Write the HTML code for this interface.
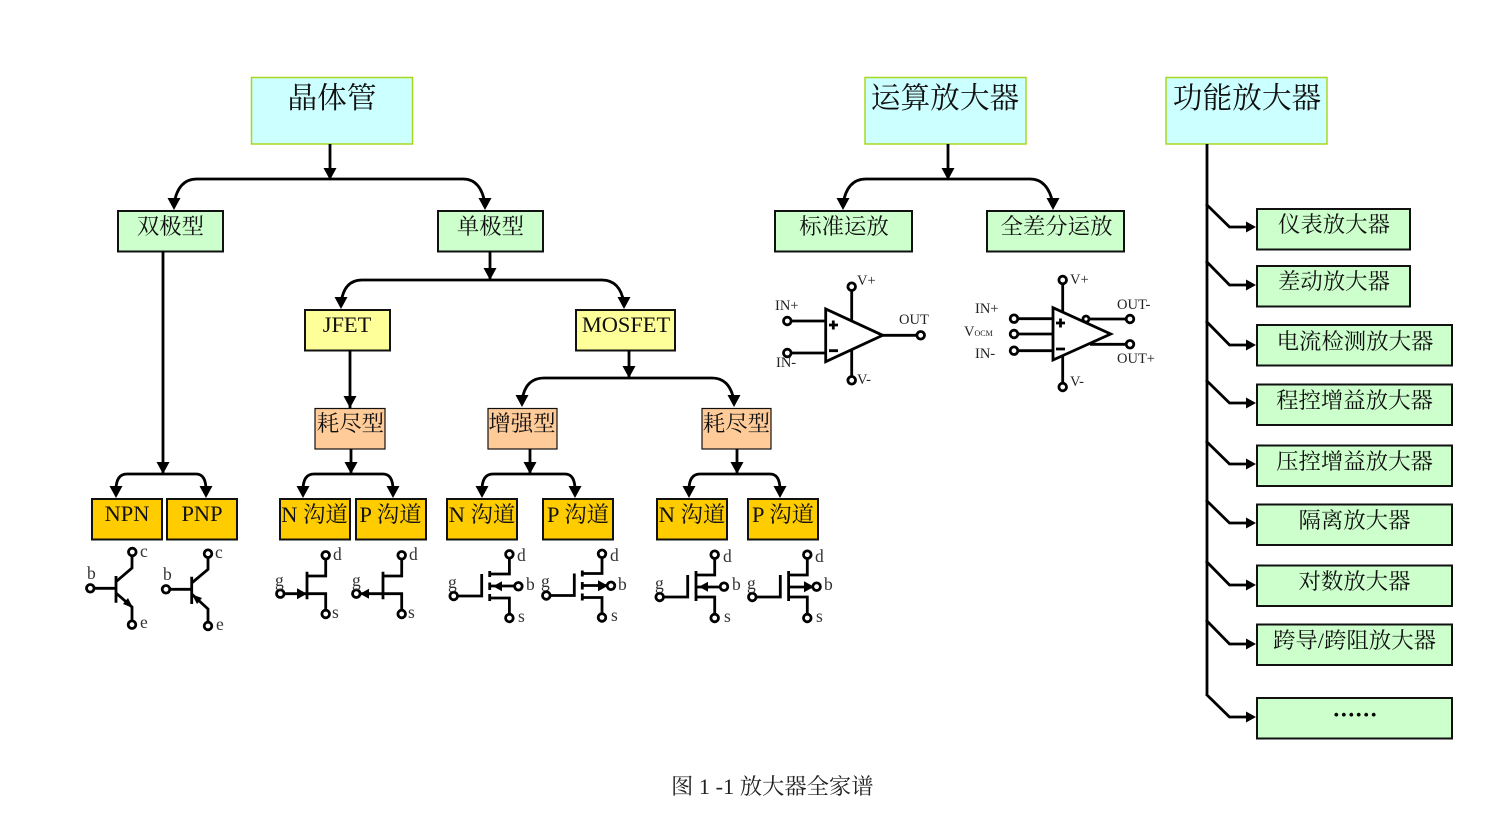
<!DOCTYPE html>
<html><head><meta charset="utf-8"><style>
html,body{margin:0;padding:0;background:#fff;width:1505px;height:825px;overflow:hidden}
svg{display:block}
text{font-family:"Liberation Serif","Noto Serif CJK SC",serif;fill:#111}
.t1{font-size:29.700px;text-anchor:middle}
.t2{font-size:22.400px;text-anchor:middle}
.s{font-size:17.500px;fill:#333}
.o{font-size:14.500px;fill:#222}
.big{fill:#ccffff;stroke:#a8d820;stroke-width:1.500}
.g{fill:#ccffcc;stroke:#111;stroke-width:2}
.y{fill:#ffff99;stroke:#111;stroke-width:2}
.p{fill:#ffcc99;stroke:#111;stroke-width:1.200}
.a{fill:#ffcc00;stroke:#111;stroke-width:2}
.l{fill:none;stroke:#000;stroke-width:2.800}
.c{fill:#fff;stroke:#000;stroke-width:2.800}
.h{fill:#000;stroke:none}
</style></head><body>
<svg width="1505" height="825" viewBox="0 0 1505 825" xmlns="http://www.w3.org/2000/svg">
<defs>
<path id="d" class="h" d="M-6.500,-12 L6.500,-12 L0,0 Z"/>
<path id="r" class="h" d="M-10,-5.500 L0,0 L-10,5.500 Z"/>
<g id="mosE">
<path class="l" d="M0,0H28V-22M36,-25V-19M36,-13.500V-6M36,-2V5M36,-22H55.700V-38M36,2H55.700V20M36,-10H64"/>
<circle class="c" cx="0" cy="0" r="3.800"/><circle class="c" cx="55.700" cy="-41.700" r="3.800"/><circle class="c" cx="55.700" cy="22" r="3.800"/><circle class="c" cx="64.700" cy="-9.700" r="3.800"/>
</g>
<g id="mosD">
<path class="l" d="M0,0H28V-22M36.300,-26V4M36.300,-22H55V-38M36.300,-0H55V20M36.300,-10H64"/>
<circle class="c" cx="0" cy="0" r="3.800"/><circle class="c" cx="55" cy="-42.300" r="3.800"/><circle class="c" cx="55" cy="21" r="3.800"/><circle class="c" cx="64.300" cy="-10.300" r="3.800"/>
</g>
<g id="jfet">
<path class="l" d="M0,0H26.700M26.700,-22V5.600M26.700,-17.700H45.400V-36M26.700,0H45.400V17"/>
<circle class="c" cx="0" cy="0" r="3.800"/><circle class="c" cx="45.400" cy="-38.400" r="3.800"/><circle class="c" cx="45.400" cy="20.300" r="3.800"/>
</g>
</defs>

<!-- boxes -->
<rect class="big" x="251.500" y="77.500" width="161" height="66.500"/>
<rect class="big" x="865" y="77.500" width="161" height="66.500"/>
<rect class="big" x="1166" y="77.500" width="161" height="66.500"/>
<rect class="g" x="118" y="211" width="105" height="40.500"/>
<rect class="g" x="438" y="211" width="105" height="40.500"/>
<rect class="g" x="775" y="211" width="137" height="40.500"/>
<rect class="g" x="987" y="211" width="137" height="40.500"/>
<rect class="y" x="305" y="310" width="85" height="40.500"/>
<rect class="y" x="576" y="310" width="99" height="40.500"/>
<rect class="p" x="315" y="408.500" width="70" height="40.500"/>
<rect class="p" x="488" y="408.500" width="69" height="40.500"/>
<rect class="p" x="702" y="408.500" width="69" height="40.500"/>
<rect class="a" x="92" y="499" width="70" height="40.500"/>
<rect class="a" x="167" y="499" width="70" height="40.500"/>
<rect class="a" x="280" y="499" width="70" height="40.500"/>
<rect class="a" x="356" y="499" width="70" height="40.500"/>
<rect class="a" x="447" y="499" width="70" height="40.500"/>
<rect class="a" x="543" y="499" width="70" height="40.500"/>
<rect class="a" x="657" y="499" width="70" height="40.500"/>
<rect class="a" x="748" y="499" width="70" height="40.500"/>
<rect class="g" x="1257" y="209" width="153" height="40.500"/>
<rect class="g" x="1257" y="266" width="153" height="40.500"/>
<rect class="g" x="1257" y="325" width="195" height="40.500"/>
<rect class="g" x="1257" y="384.500" width="195" height="40.500"/>
<rect class="g" x="1257" y="445.500" width="195" height="40.500"/>
<rect class="g" x="1257" y="504.500" width="195" height="40.500"/>
<rect class="g" x="1257" y="565.500" width="195" height="40.500"/>
<rect class="g" x="1257" y="624.500" width="195" height="40.500"/>
<rect class="g" x="1257" y="698" width="195" height="40.500"/>

<!-- box text -->
<text class="t1" x="332" y="108">晶体管</text>
<text class="t1" x="945" y="108">运算放大器</text>
<text class="t1" x="1247" y="108">功能放大器</text>
<text class="t2" x="170.500" y="234">双极型</text>
<text class="t2" x="490.500" y="234">单极型</text>
<text class="t2" x="844" y="234">标准运放</text>
<text class="t2" x="1056.500" y="234">全差分运放</text>
<text class="t2" x="347" y="332">JFET</text>
<text class="t2" x="626" y="332">MOSFET</text>
<text class="t2" x="350.500" y="431">耗尽型</text>
<text class="t2" x="522" y="431">增强型</text>
<text class="t2" x="736.500" y="431">耗尽型</text>
<text class="t2" x="127" y="521">NPN</text>
<text class="t2" x="202" y="521">PNP</text>
<text class="t2" x="314.500" y="522">N 沟道</text>
<text class="t2" x="390.500" y="522">P 沟道</text>
<text class="t2" x="482" y="522">N 沟道</text>
<text class="t2" x="578" y="522">P 沟道</text>
<text class="t2" x="692" y="522">N 沟道</text>
<text class="t2" x="783" y="522">P 沟道</text>
<text class="t2" x="1334" y="232">仪表放大器</text>
<text class="t2" x="1334" y="289">差动放大器</text>
<text class="t2" x="1355" y="349">电流检测放大器</text>
<text class="t2" x="1354.500" y="408">程控增益放大器</text>
<text class="t2" x="1354.500" y="469">压控增益放大器</text>
<text class="t2" x="1354.500" y="528">隔离放大器</text>
<text class="t2" x="1354.500" y="589">对数放大器</text>
<text class="t2" x="1354.500" y="648">跨导/跨阻放大器</text>
<text class="t2" x="1355" y="716" style="stroke:#000;stroke-width:1.200">……</text>
<text x="671" y="794" style="font-size:22.300px;fill:#222">图 1 -1 放大器全家谱</text>

<!-- connectors -->
<path class="l" d="M330,144V180M174,204Q178,179 197,179H463Q481,179 485,204"/>
<use href="#d" x="330" y="180"/><use href="#d" x="174" y="210"/><use href="#d" x="485" y="210"/>
<path class="l" d="M948,144V180M843,204Q847,179 866,179H1030Q1048,179 1053,204"/>
<use href="#d" x="948" y="180"/><use href="#d" x="843" y="210"/><use href="#d" x="1053" y="210"/>
<path class="l" d="M163,251V474M116,490Q116,474 127,474H196Q206,474 206,490"/>
<use href="#d" x="163" y="474"/><use href="#d" x="116" y="498"/><use href="#d" x="206" y="498"/>
<path class="l" d="M490,251V280M341,303Q344,280 362,280H602Q620,280 624,303"/>
<use href="#d" x="490" y="280"/><use href="#d" x="341" y="309"/><use href="#d" x="624" y="309"/>
<path class="l" d="M350,350V408"/><use href="#d" x="350" y="408"/>
<path class="l" d="M351,449V474M303,490Q303,474 314,474H383Q393,474 393,490"/>
<use href="#d" x="351" y="474"/><use href="#d" x="303" y="498"/><use href="#d" x="393" y="498"/>
<path class="l" d="M629,350V378M522,401Q525,378 544,378H712Q730,378 734,401"/>
<use href="#d" x="629" y="378"/><use href="#d" x="522" y="407"/><use href="#d" x="734" y="407"/>
<path class="l" d="M530,449V474M482,490Q482,474 493,474H565Q575,474 575,490"/>
<use href="#d" x="530" y="474"/><use href="#d" x="482" y="498"/><use href="#d" x="575" y="498"/>
<path class="l" d="M737,449V474M689,490Q689,474 700,474H770Q780,474 780,490"/>
<use href="#d" x="737" y="474"/><use href="#d" x="689" y="498"/><use href="#d" x="780" y="498"/>
<path class="l" d="M1207,144V694M1206,204L1229.500,227H1250M1206,261L1229.500,285H1250M1206,321L1229.500,345H1250M1206,380L1229.500,403H1250M1206,441L1229.500,464H1250M1206,500L1229.500,523H1250M1206,561L1229.500,585H1250M1206,620L1229.500,644H1250M1206,694L1229.500,717H1250"/>
<use href="#r" x="1256" y="227"/><use href="#r" x="1256" y="285"/><use href="#r" x="1256" y="345"/><use href="#r" x="1256" y="403"/><use href="#r" x="1256" y="464"/><use href="#r" x="1256" y="523"/><use href="#r" x="1256" y="585"/><use href="#r" x="1256" y="644"/><use href="#r" x="1256" y="717"/>

<!-- NPN -->
<path class="l" d="M94,588.300H116M116,576V602.700M116,581.700L132,568V555M116,593L132,607V621"/>
<path class="h" d="M133,608L123,604L128,598Z"/>
<circle class="c" cx="90.300" cy="588.300" r="3.800"/><circle class="c" cx="132.300" cy="552" r="3.800"/><circle class="c" cx="132" cy="624.700" r="3.800"/>
<text class="s" x="87" y="579">b</text><text class="s" x="140" y="557">c</text><text class="s" x="140" y="628">e</text>
<!-- PNP -->
<path class="l" d="M170,589.300H191.700M191.700,576.700V604M191.700,583L208,569.300V557M191.700,594L208,609V622"/>
<path class="h" d="M192,594.500L202,598L197,604Z"/>
<circle class="c" cx="166" cy="589.300" r="3.800"/><circle class="c" cx="208" cy="553.700" r="3.800"/><circle class="c" cx="208" cy="626" r="3.800"/>
<text class="s" x="163" y="580">b</text><text class="s" x="215" y="558">c</text><text class="s" x="216" y="630">e</text>

<!-- JFET -->
<use href="#jfet" x="280.300" y="593.700"/><use href="#r" x="307" y="593.700"/>
<text class="s" x="275" y="586">g</text><text class="s" x="333" y="560">d</text><text class="s" x="332" y="618">s</text>
<use href="#jfet" x="356.300" y="593.700"/>
<path class="h" d="M360,593.700L369,588.700V598.700Z"/>
<text class="s" x="352" y="586">g</text><text class="s" x="409" y="560">d</text><text class="s" x="408" y="618">s</text>

<!-- MOSFET -->
<use href="#mosE" x="453.700" y="596"/>
<path class="h" d="M493,586.300L502,581.300V591.300Z"/>
<text class="s" x="448" y="588">g</text><text class="s" x="517" y="561">d</text><text class="s" x="518" y="622">s</text><text class="s" x="526" y="590">b</text>
<use href="#mosE" x="546.300" y="595.500"/>
<use href="#r" x="608" y="585.800"/>
<text class="s" x="541" y="587">g</text><text class="s" x="610" y="561">d</text><text class="s" x="611" y="621">s</text><text class="s" x="618" y="590">b</text>
<use href="#mosD" x="659.700" y="597"/>
<path class="h" d="M699,586.700L708,581.700V591.700Z"/>
<text class="s" x="655" y="589">g</text><text class="s" x="723" y="562">d</text><text class="s" x="724" y="622">s</text><text class="s" x="732" y="590">b</text>
<use href="#mosD" x="752.300" y="597"/>
<use href="#r" x="814" y="586.700"/>
<text class="s" x="747" y="589">g</text><text class="s" x="815" y="562">d</text><text class="s" x="816" y="622">s</text><text class="s" x="824" y="590">b</text>

<!-- Op amp 1 -->
<path class="l" d="M791,321H825.700M791,353H825.700M882.700,335.300H917M851.700,290V320M851.700,350V377"/>
<path d="M825.700,309V361.700L882.700,335.300Z" fill="#fff" stroke="#000" stroke-width="2.800"/>
<path class="l" d="M829,325H838M833.300,320.500V329.500M829,350.700H838"/>
<circle class="c" cx="787.300" cy="321" r="3.800"/><circle class="c" cx="787.300" cy="353" r="3.800"/><circle class="c" cx="920.700" cy="335.300" r="3.800"/><circle class="c" cx="851.700" cy="286.700" r="3.800"/><circle class="c" cx="851.700" cy="380.300" r="3.800"/>
<text class="o" x="775" y="310">IN+</text><text class="o" x="776" y="367">IN-</text><text class="o" x="857" y="285">V+</text><text class="o" x="857" y="384">V-</text><text class="o" x="899" y="324">OUT</text>

<!-- Op amp 2 -->
<path class="l" d="M1018,318.700H1053M1018,334H1053M1018,350.700H1053M1062.700,284V312M1062.700,355V383M1086,319H1126M1090,344.300H1126"/>
<path d="M1053,307.700V360L1110.700,334Z" fill="#fff" stroke="#000" stroke-width="2.800"/>
<path class="l" d="M1056,323H1065M1060.500,318.500V327.500M1056,349H1065"/>
<circle class="c" cx="1014" cy="318.700" r="3.800"/><circle class="c" cx="1014" cy="334" r="3.800"/><circle class="c" cx="1014" cy="350.700" r="3.800"/><circle class="c" cx="1062.700" cy="280" r="3.800"/><circle class="c" cx="1062.700" cy="387" r="3.800"/><circle class="c" cx="1086" cy="319" r="3"/><circle class="c" cx="1130" cy="319" r="3.800"/><circle class="c" cx="1130" cy="344.300" r="3.800"/>
<text class="o" x="975" y="313">IN+</text><text class="o" x="964" y="336">V<tspan font-size="8">OCM</tspan></text><text class="o" x="975" y="358">IN-</text><text class="o" x="1070" y="284">V+</text><text class="o" x="1070" y="386">V-</text><text class="o" x="1117" y="309">OUT-</text><text class="o" x="1117" y="363">OUT+</text>
</svg>
</body></html>
